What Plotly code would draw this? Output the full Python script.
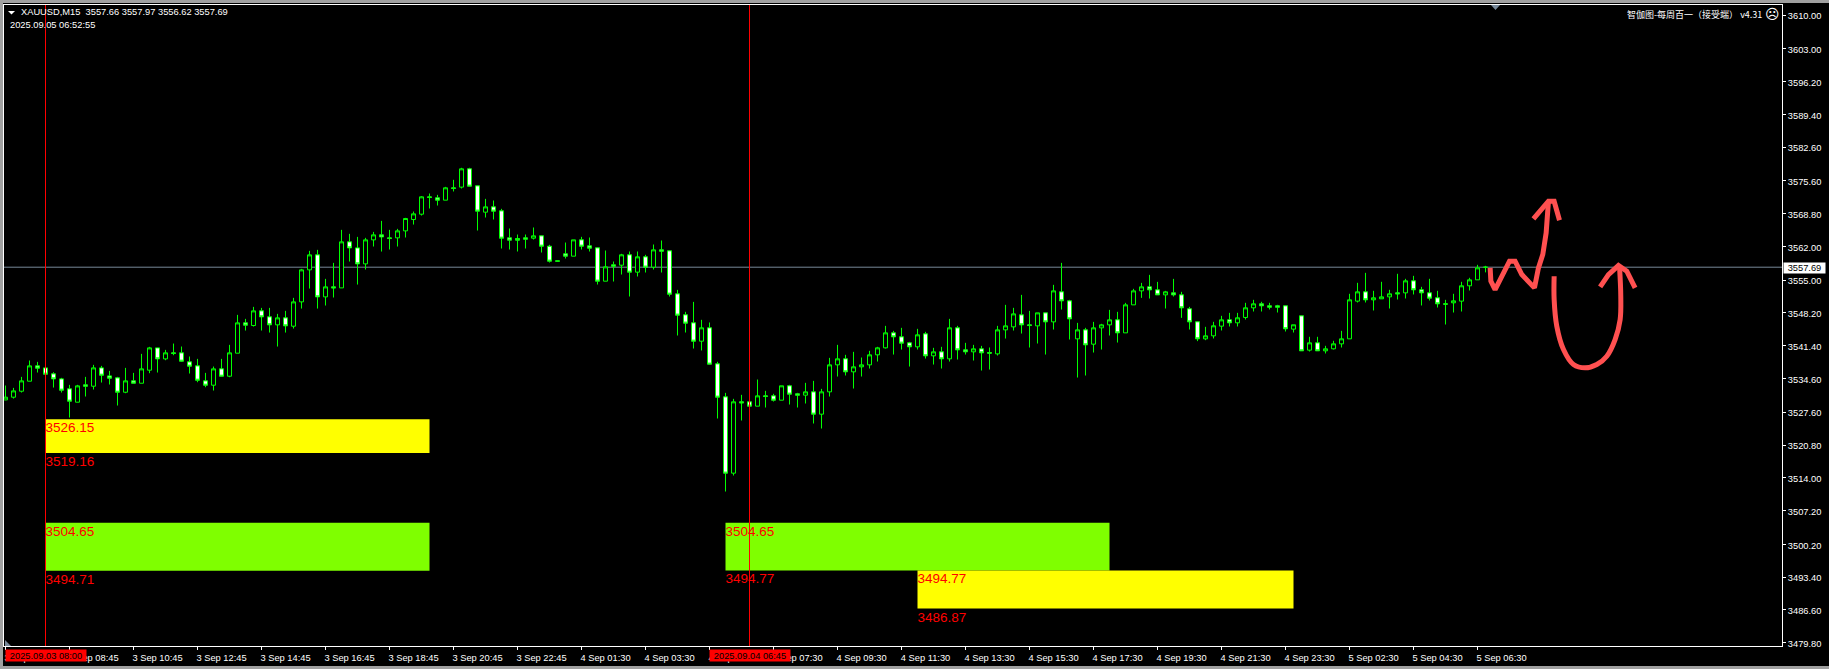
import plotly.graph_objects as go

OPEN = [3530.16,3530.72,3531.96,3534.04,3537.22,3536.80,3535.56,3534.52,3532.45,3529.68,
3533.28,3533.00,3536.80,3535.14,3534.73,3531.75,3534.11,3533.62,3536.32,3540.95,
3538.67,3539.92,3539.92,3538.05,3537.22,3534.11,3533.21,3536.60,3535.07,3539.85,
3546.14,3545.59,3548.63,3547.39,3545.73,3547.18,3545.45,3550.50,3557.14,3560.25,
3551.53,3553.61,3553.40,3562.95,3561.70,3558.38,3563.36,3564.40,3563.78,3563.78,
3565.23,3567.58,3568.69,3572.29,3572.08,3571.60,3574.16,3574.30,3578.10,3574.57,
3569.11,3570.21,3569.38,3563.78,3563.64,3563.78,3563.71,3564.20,3562.05,3559.01,
3560.46,3559.98,3563.37,3562.12,3561.71,3554.79,3558.18,3558.11,3560.26,3556.66,
3559.84,3557.70,3561.29,3561.09,3552.16,3547.81,3546.15,3542.34,3545.11,3537.64,
3530.79,3514.96,3529.76,3529.76,3528.86,3531.00,3531.00,3530.10,3533.08,3531.42,
3531.14,3531.83,3527.20,3531.83,3537.43,3538.68,3535.98,3537.02,3537.43,3539.51,
3540.96,3544.07,3543.24,3542.00,3541.17,3543.86,3539.30,3540.13,3538.68,3545.11,
3540.54,3540.13,3540.75,3539.99,3539.71,3544.69,3545.31,3547.80,3545.73,3545.52,
3548.22,3546.35,3552.58,3550.71,3542.83,3544.69,3541.72,3545.11,3545.73,3546.77,
3544.07,3549.88,3552.78,3553.61,3552.99,3551.95,3552.37,3551.95,3549.05,3546.36,
3542.83,3543.45,3545.46,3546.77,3546.15,3547.26,3549.26,3550.09,3549.68,3549.68,
3549.68,3544.84,3547.60,3540.48,3542.00,3540.34,3540.76,3541.79,3542.83,3550.65,
3552.58,3550.92,3551.13,3551.54,3552.37,3552.37,3554.86,3553.00,3552.37,3551.34,
3550.09,3550.30,3550.65,3553.83,3555.07,3557.66]

HIGH = [3533.14,3532.65,3534.94,3538.33,3538.05,3536.80,3535.90,3534.73,3533.28,3533.28,
3534.94,3537.43,3537.22,3536.18,3534.94,3536.80,3535.77,3539.71,3541.16,3540.95,
3540.54,3541.85,3541.23,3539.16,3538.67,3535.77,3537.08,3538.67,3541.58,3547.80,
3546.97,3549.46,3549.25,3549.25,3548.01,3548.63,3551.33,3557.34,3561.08,3561.29,
3555.27,3558.59,3565.44,3564.61,3563.98,3563.78,3565.02,3567.30,3565.44,3565.64,
3567.93,3569.24,3572.43,3572.98,3572.70,3574.36,3575.82,3578.31,3578.31,3574.57,
3571.87,3571.53,3569.80,3565.72,3564.47,3564.47,3565.93,3564.20,3562.33,3559.01,
3562.81,3563.37,3563.99,3563.85,3561.71,3561.15,3558.87,3560.46,3560.95,3560.95,
3560.26,3562.40,3563.23,3561.09,3552.99,3548.43,3550.50,3546.77,3546.22,3538.06,
3531.62,3530.38,3531.21,3529.76,3534.39,3532.04,3531.42,3533.08,3533.28,3531.62,
3533.70,3534.11,3532.45,3538.88,3541.58,3539.51,3540.13,3538.95,3540.34,3541.17,
3545.52,3544.48,3545.11,3542.20,3544.90,3544.28,3540.96,3541.17,3546.97,3545.52,
3542.00,3541.58,3541.37,3541.03,3545.52,3549.88,3549.26,3551.95,3548.63,3548.22,
3548.22,3554.03,3558.59,3550.92,3546.14,3545.11,3546.35,3545.94,3548.84,3548.43,
3550.29,3553.20,3554.44,3556.10,3554.65,3552.78,3555.27,3552.58,3549.46,3546.36,
3545.32,3546.36,3547.60,3548.22,3548.22,3550.30,3550.92,3550.51,3550.30,3549.88,
3549.68,3545.74,3547.60,3543.25,3543.25,3541.38,3542.42,3544.49,3552.17,3554.45,
3556.52,3552.79,3554.66,3553.00,3556.32,3555.28,3555.90,3553.62,3555.28,3552.79,
3550.92,3552.17,3554.66,3555.49,3558.18,3557.97]

LOW = [3530.10,3530.44,3531.69,3534.04,3535.84,3535.35,3532.72,3531.69,3526.50,3529.68,
3530.86,3532.31,3533.76,3533.35,3528.99,3531.55,3533.62,3533.62,3535.70,3535.84,
3538.39,3539.43,3538.05,3535.63,3533.83,3532.79,3532.10,3535.07,3534.87,3539.85,
3544.55,3545.38,3544.55,3544.13,3541.23,3544.13,3544.96,3549.11,3553.26,3549.11,
3549.74,3551.40,3553.40,3558.87,3554.09,3557.21,3561.98,3560.94,3561.36,3561.98,
3563.85,3566.54,3568.41,3569.87,3570.49,3571.60,3573.40,3574.02,3574.50,3565.30,
3568.00,3567.59,3561.57,3561.36,3560.95,3561.57,3563.44,3560.74,3558.66,3558.94,
3559.49,3559.98,3561.36,3560.95,3554.10,3554.79,3554.72,3556.17,3551.61,3555.76,
3556.59,3557.21,3556.59,3551.61,3543.52,3544.14,3540.82,3540.41,3537.57,3526.30,
3511.15,3514.47,3525.88,3528.86,3528.86,3528.58,3529.82,3530.10,3529.20,3528.58,
3529.41,3525.26,3524.22,3530.86,3535.01,3535.22,3532.52,3535.01,3536.67,3538.12,
3540.82,3539.57,3540.61,3537.08,3540.61,3538.74,3537.50,3536.67,3538.12,3538.54,
3539.57,3538.33,3536.25,3536.46,3539.37,3542.89,3544.55,3543.93,3541.03,3541.86,
3539.57,3544.76,3548.91,3542.69,3534.80,3535.22,3539.99,3540.61,3543.52,3542.06,
3544.07,3549.88,3551.33,3551.19,3551.95,3549.12,3551.61,3547.18,3544.76,3542.35,
3542.55,3542.90,3544.56,3545.39,3545.39,3546.84,3548.50,3548.50,3548.92,3548.29,
3544.35,3544.14,3540.34,3540.20,3540.34,3539.79,3540.62,3541.03,3542.83,3550.37,
3550.37,3548.71,3551.13,3549.12,3550.99,3551.20,3552.03,3549.75,3550.78,3549.33,
3545.80,3548.29,3548.50,3552.86,3555.07,3556.62]

CLOSE = [3530.72,3532.03,3534.11,3537.22,3536.74,3535.49,3534.52,3532.17,3529.89,3533.07,
3533.00,3536.80,3535.28,3534.66,3531.75,3534.11,3533.62,3536.60,3540.95,3538.67,
3539.92,3539.78,3538.19,3537.15,3534.24,3533.21,3536.60,3535.07,3539.92,3546.14,
3545.66,3548.63,3547.39,3545.73,3547.18,3545.52,3550.50,3557.14,3560.25,3551.53,
3553.61,3553.40,3562.95,3561.70,3558.38,3563.36,3564.40,3563.98,3563.64,3565.23,
3567.79,3568.76,3572.29,3572.15,3571.60,3574.16,3574.02,3578.10,3574.50,3569.32,
3570.21,3569.32,3563.71,3563.30,3563.30,3563.51,3564.20,3562.05,3558.94,3558.94,
3559.98,3563.37,3562.05,3561.64,3554.79,3557.77,3557.90,3560.26,3556.66,3559.84,
3557.70,3561.29,3561.02,3552.09,3547.74,3546.08,3542.34,3545.11,3537.57,3530.72,
3514.96,3529.76,3529.55,3528.86,3531.00,3530.86,3530.10,3533.08,3531.35,3531.14,
3531.83,3527.20,3531.83,3537.43,3538.68,3535.98,3537.02,3537.43,3539.51,3540.96,
3544.07,3543.24,3541.93,3541.17,3543.66,3539.30,3540.13,3538.68,3545.11,3540.54,
3540.13,3540.75,3539.92,3539.85,3544.69,3545.52,3548.01,3545.73,3545.59,3548.22,
3546.35,3552.78,3550.71,3546.97,3544.69,3541.58,3545.11,3545.73,3546.77,3544.07,
3549.88,3552.78,3553.61,3552.99,3551.95,3552.58,3551.95,3549.26,3546.35,3542.83,
3543.45,3545.53,3546.77,3546.15,3547.19,3549.26,3550.09,3549.68,3549.40,3549.40,
3544.91,3545.74,3540.34,3542.00,3540.34,3540.76,3541.79,3542.83,3550.92,3552.58,
3550.92,3551.34,3551.54,3552.17,3552.17,3554.86,3553.00,3552.37,3551.27,3550.09,
3550.02,3550.71,3553.83,3555.07,3557.56,3557.69]

TIME_LABELS = ["3 Sep 06:45","3 Sep 08:45","3 Sep 10:45","3 Sep 12:45","3 Sep 14:45","3 Sep 16:45",
"3 Sep 18:45","3 Sep 20:45","3 Sep 22:45","4 Sep 01:30","4 Sep 03:30","4 Sep 05:30",
"4 Sep 07:30","4 Sep 09:30","4 Sep 11:30","4 Sep 13:30","4 Sep 15:30","4 Sep 17:30",
"4 Sep 19:30","4 Sep 21:30","4 Sep 23:30","5 Sep 02:30","5 Sep 04:30","5 Sep 06:30"]
PRICE_TICKS = [3610.00,3603.00,3596.20,3589.40,3582.60,3575.60,3568.80,3562.00,3555.00,3548.20,
3541.40,3534.60,3527.60,3520.80,3514.00,3507.20,3500.20,3493.40,3486.60,3479.80]

BOX_BARS = [(5,53),(5,53),(90,138),(114,161)]
BOX_TOPS = [3526.15,3504.65,3504.65,3494.77]
BOX_BOTTOMS = [3519.16,3494.71,3494.77,3486.87]
BOX_COLORS = ["#FFFF00","#7FFF00","#7FFF00","#FFFF00"]
MARKER_BARS = [5,93]
MARKER_LABELS = ["2025.09.03 08:00","2025.09.04 06:45"]
LAST_PRICE = 3557.69

SKETCH_W_X = [185.58,185.67,186.2,186.83,188.0,188.7,189.54,191.12,191.62,192.16,192.58,192.87]
SKETCH_W_Y = [3557.55,3554.79,3553.06,3555.13,3558.94,3558.94,3556.17,3553.4,3557.55,3560.32,3564.81,3571.38]
SKETCH_WH_X = [190.99,191.83,192.87,193.58,194.25]
SKETCH_WH_Y = [3567.72,3569.31,3571.38,3571.38,3567.44]
SKETCH_U_X = [193.58,193.58,193.91,194.75,196.0,197.45,198.91,200.16,201.2,201.83,201.91,201.75]
SKETCH_U_Y = [3555.82,3551.0,3545.45,3540.61,3537.5,3536.81,3537.5,3539.23,3542.68,3546.83,3551.68,3557.9]
SKETCH_UH_X = [199.33,200.37,201.62,202.66,203.7]
SKETCH_UH_Y = [3553.61,3556.17,3558.04,3556.86,3553.4]

GREEN = "#00FF00"
SKETCH = "#FF5050"
FONT = "Liberation Sans"
SMALL = 9.3
PLOT_W = 1778
PLOT_H = 641
LABEL_DROP = 0.6

bars = list(range(len(OPEN)))
fig = go.Figure()
fig.add_trace(go.Candlestick(
    x=bars, open=OPEN, high=HIGH, low=LOW, close=CLOSE,
    increasing=dict(line=dict(color=GREEN, width=1), fillcolor="#000000"),
    decreasing=dict(line=dict(color=GREEN, width=1), fillcolor="#FFFFFF"),
    whiskerwidth=0, showlegend=False, hoverinfo="skip"))
for xs, ys, shape in [(SKETCH_W_X, SKETCH_W_Y, "linear"), (SKETCH_WH_X, SKETCH_WH_Y, "linear"),
                      (SKETCH_U_X, SKETCH_U_Y, "spline"), (SKETCH_UH_X, SKETCH_UH_Y, "linear")]:
    fig.add_trace(go.Scatter(x=xs, y=ys, mode="lines", showlegend=False, hoverinfo="skip",
                             line=dict(color=SKETCH, width=5, shape=shape)))

label_x, label_levels = [], []
for (b0, _), top, bottom in zip(BOX_BARS, BOX_TOPS, BOX_BOTTOMS):
    label_x += [b0, b0]
    label_levels += [top, bottom]
fig.add_trace(go.Scatter(x=label_x, y=[v - LABEL_DROP for v in label_levels], mode="text",
                         text=[f"{v:.2f}" for v in label_levels],
                         textposition="bottom right", showlegend=False, hoverinfo="skip",
                         textfont=dict(family=FONT, size=13.5, color="#FF0000")))


def px(x):
    return (x - 4) / PLOT_W


def py(y):
    return 1 - (y - 5) / PLOT_H


def tri(points, color):
    path = "M " + " L ".join(f"{px(a)},{py(b)}" for a, b in points) + " Z"
    return dict(type="path", xref="paper", yref="paper", path=path, fillcolor=color,
                line=dict(width=0), layer="above")


def band(x0, y0, x1, y1, color):
    return dict(type="rect", xref="paper", yref="paper", x0=px(x0), x1=px(x1), y0=py(y0), y1=py(y1),
                fillcolor=color, line=dict(width=0), layer="above")


shapes = [dict(type="line", xref="paper", yref="y", x0=0, x1=1, y0=LAST_PRICE, y1=LAST_PRICE,
               line=dict(color="#778899", width=1), layer="below")]
for (b0, b1), top, bottom, color in zip(BOX_BARS, BOX_TOPS, BOX_BOTTOMS, BOX_COLORS):
    shapes.append(dict(type="rect", xref="x", yref="y", x0=b0, x1=b1, y0=bottom, y1=top,
                       fillcolor=color, line=dict(width=0), layer="below"))
for b in MARKER_BARS:
    shapes.append(dict(type="line", xref="x", yref="paper", x0=b, x1=b, y0=0, y1=1,
                       line=dict(color="#FF0000", width=1), layer="above"))
shapes += [
    tri([(8, 11), (15, 11), (11.5, 14.5)], "#FFFFFF"),
    tri([(1491, 5), (1500, 5), (1495.5, 10)], "#778899"),
    tri([(5, 640), (5, 646), (11, 646)], "#778899"),
    band(0, 0, 1829, 3, "#A0A0A0"),
    band(0, 0, 3, 669, "#A0A0A0"),
    band(0, 666, 1829, 669, "#A0A0A0"),
]

annotations = []
for b, label in zip(MARKER_BARS, MARKER_LABELS):
    annotations.append(dict(x=b, y=py(655.5), xref="x", yref="paper", text=label, showarrow=False,
                            xanchor="center", yanchor="middle", bgcolor="#FF0000", borderpad=0,
                            width=80, height=11,
                            font=dict(family=FONT, size=SMALL, color="#000000")))
annotations.append(dict(x=1, y=LAST_PRICE, xref="paper", yref="y", text=f"{LAST_PRICE:.2f}",
                        showarrow=False, xanchor="left", yanchor="middle", bgcolor="#FFFFFF",
                        borderpad=0, width=41, height=10, xshift=1, yshift=-0.5,
                        font=dict(family=FONT, size=SMALL, color="#000000")))


def page_text(x, y, text, anchor="left", size=SMALL, family=FONT):
    annotations.append(dict(x=px(x), y=py(y), xref="paper", yref="paper", text=text,
                            showarrow=False, xanchor=anchor, yanchor="middle", borderpad=0,
                            font=dict(family=family, size=size, color="#FFFFFF")))


page_text(20, 12.5, "XAUUSD,M15&nbsp;&nbsp;3557.66 3557.97 3556.62 3557.69")
page_text(9, 25.5, "2025.09.05 06:52:55")
page_text(1763, 14, "智伽图-每周百一（接受端） v4.31", anchor="right", size=9,
          family="Noto Sans CJK SC")
page_text(1764, 14, "☹", size=14, family="DejaVu Sans")

tickfont = dict(family=FONT, size=SMALL, color="#FFFFFF")
fig.update_layout(
    width=1829, height=669, autosize=False,
    margin=dict(l=4, r=47, t=5, b=23, pad=0),
    paper_bgcolor="#000000", plot_bgcolor="#000000",
    boxmode="overlay", boxgap=0.5, boxgroupgap=0,
    showlegend=False, shapes=shapes, annotations=annotations,
    font=dict(family=FONT, size=SMALL, color="#FFFFFF"),
    xaxis=dict(range=[-0.1875, 222.0625], rangeslider=dict(visible=False), showgrid=False,
               zeroline=False, showline=True, linecolor="#FFFFFF", linewidth=1, mirror=True,
               tickmode="array", tickvals=bars[::8], ticktext=TIME_LABELS, ticks="outside",
               ticklen=3, tickcolor="#FFFFFF", tickwidth=1, tickangle=0, ticklabelshift=24,
               tickfont=tickfont),
    yaxis=dict(side="right", range=[3479.1, 3612.09], showgrid=False, zeroline=False,
               showline=True, linecolor="#FFFFFF", linewidth=1, mirror=True,
               tickmode="array", tickvals=PRICE_TICKS, ticktext=[f"{t:.2f}" for t in PRICE_TICKS],
               ticks="outside", ticklen=3, tickcolor="#FFFFFF", tickwidth=1, ticklabelshift=1,
               tickfont=tickfont),
)
fig.write_html("out.html", config=dict(displayModeBar=False, responsive=False),
               post_script="document.body.style.margin='0';document.body.style.background='#000';document.body.style.overflow='hidden';")
